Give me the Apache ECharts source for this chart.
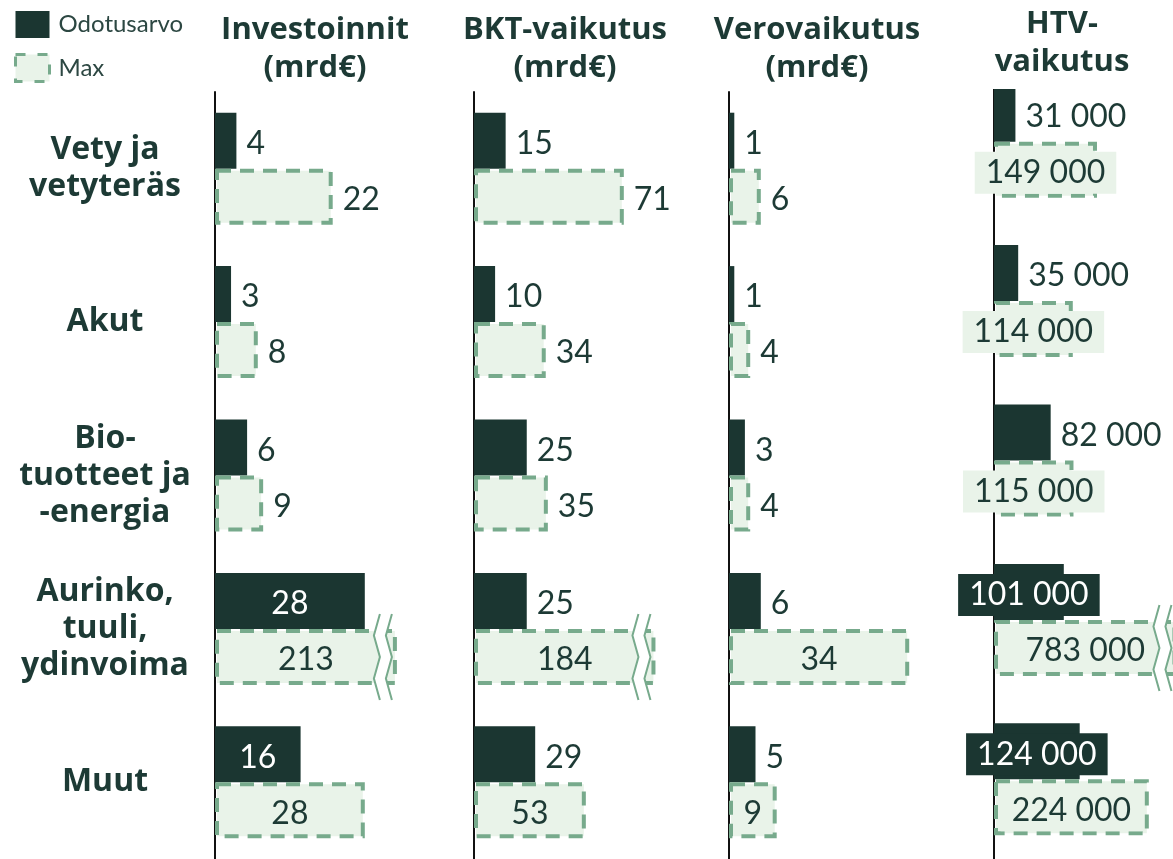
<!DOCTYPE html>
<html><head><meta charset="utf-8">
<script src="https://cdn.jsdelivr.net/npm/echarts@6/dist/echarts.min.js"></script>
<style>html,body{margin:0;padding:0;background:#fff}#c{width:1173px;height:859px}</style>
</head><body><div id="c"></div>
<script>
// ---------- DATA ----------
const categories = ['Vety ja\nvetyteräs', 'Akut', 'Bio-\ntuotteet ja\n-energia', 'Aurinko,\ntuuli,\nydinvoima', 'Muut'];
const panelTitles = ['Investoinnit\n(mrd€)', 'BKT-vaikutus\n(mrd€)', 'Verovaikutus\n(mrd€)', 'HTV-\nvaikutus'];
const seriesNames = ['Odotusarvo', 'Max'];
const investExpected = [4, 3, 6, 28, 16];
const investMax = [22, 8, 9, 213, 28];
const gdpExpected = [15, 10, 25, 25, 29];
const gdpMax = [71, 34, 35, 184, 53];
const taxExpected = [1, 1, 3, 6, 5];
const taxMax = [6, 4, 4, 34, 9];
const jobsExpected = [31000, 35000, 82000, 101000, 124000];
const jobsMax = [149000, 114000, 115000, 783000, 224000];
// value at which over-long bars are cut with a break mark
const breakAt = [34, 86, null, 264000];

// ---------- STYLE ----------
const DARK = '#1b3631', LIGHT = '#e9f3e9', DASH = '#77aa8c', TXT = '#1d3a35';
const NUM_FONT = 'Lato', HEAD_FONT = 'Open Sans';
const BAR_W = 56;
const panels = [
  {exp: investExpected, mx: investMax, left: 215, width: 214, max: 40, top: 92, height: 771,
   expIn: [0,0,0,1,1], mxIn: [0,0,0,1,1], boxed: false, tx: 315, ty: 11},
  {exp: gdpExpected, mx: gdpMax, left: 474, width: 211, max: 100, top: 92, height: 771,
   expIn: [0,0,0,0,0], mxIn: [0,0,0,1,1], boxed: false, tx: 565, ty: 11},
  {exp: taxExpected, mx: taxMax, left: 729, width: 212, max: 40, top: 92, height: 771,
   expIn: [0,0,0,0,0], mxIn: [0,0,0,1,1], boxed: false, tx: 817, ty: 11},
  {exp: jobsExpected, mx: jobsMax, left: 994, width: 179, max: 259000, top: 62, height: 801,
   expIn: [0,0,0,1,1], mxIn: [1,1,1,1,1], boxed: true, tx: 1062, ty: 5}
];

const fmt = v => String(v).replace(/\B(?=(\d{3})+(?!\d))/g, ' ');

const grid = [], xAxis = [], yAxis = [], series = [], graphic = [];
panels.forEach((p, i) => {
  grid.push({left: p.left, top: p.top, width: p.width, height: p.height, containLabel: false});
  xAxis.push({type: 'value', gridIndex: i, min: 0, max: p.max, show: false});
  yAxis.push({
    type: 'category', gridIndex: i, inverse: true, data: categories,
    axisLine: {show: true, lineStyle: {color: '#111', width: 2}},
    axisTick: {show: false}, splitLine: {show: false},
    axisLabel: {show: i === 0, align: 'center', margin: 110, fontFamily: HEAD_FONT,
      fontWeight: 'bold', fontSize: 32, lineHeight: 37, color: TXT}
  });
  const cap = breakAt[i];
  const baseLabel = {fontFamily: NUM_FONT, fontSize: 32, lineHeight: 36, offset: [0, 3]};
  series.push({
    name: seriesNames[0], type: 'bar', xAxisIndex: i, yAxisIndex: i,
    barWidth: BAR_W, barGap: '0%', itemStyle: {color: DARK},
    data: p.exp.map((v, k) => ({
      value: v,
      label: p.expIn[k]
        ? Object.assign({show: true, position: 'inside', color: '#fff'}, baseLabel,
            p.boxed ? {backgroundColor: DARK, padding: [3, 11]} : {})
        : Object.assign({show: true, position: 'right', distance: 10, color: TXT}, baseLabel)
    })),
    label: {formatter: pr => fmt(p.exp[pr.dataIndex])}
  });
  series.push({
    name: seriesNames[1], type: 'bar', xAxisIndex: i, yAxisIndex: i,
    barWidth: BAR_W, barGap: '0%', clip: false,
    itemStyle: {color: LIGHT, borderColor: DASH, borderWidth: 4, borderType: [14, 9]},
    data: p.mx.map((v, k) => ({
      value: cap != null ? Math.min(v, cap) : v,
      label: p.mxIn[k]
        ? Object.assign({show: true, position: 'inside', color: TXT}, baseLabel,
            p.boxed ? {backgroundColor: LIGHT, padding: [3, 11]} : {})
        : Object.assign({show: true, position: 'right', distance: 10, color: TXT}, baseLabel)
    })),
    label: {formatter: pr => fmt(p.mx[pr.dataIndex])}
  });
  if (cap != null) {
    const brk = [];
    p.mx.forEach((v, k) => { if (v > cap) brk.push([cap, k]); });
    series.push({
      type: 'custom', xAxisIndex: i, yAxisIndex: i, z: 5, silent: true, clip: false,
      data: brk,
      renderItem: (params, api) => {
        const pt = api.coord([api.value(0), api.value(1)]);
        const top = pt[1] - 15, bot = pt[1] + BAR_W + 15;
        const n = 4, step = (bot - top) / n;
        const zig = x => {
          const pts = [];
          for (let s = 0; s <= n; s++) pts.push([x + (s % 2 ? -3 : 3), top + s * step]);
          return pts;
        };
        const a = zig(pt[0] - 20), b = zig(pt[0] - 8);
        return {type: 'group', children: [
          {type: 'polygon', shape: {points: a.concat(b.slice().reverse())}, style: {fill: '#fff'}},
          {type: 'polyline', shape: {points: a}, style: {stroke: DASH, lineWidth: 2, fill: null}},
          {type: 'polyline', shape: {points: b}, style: {stroke: DASH, lineWidth: 2, fill: null}}
        ]};
      }
    });
  }
  graphic.push({
    type: 'text', x: p.tx, y: p.ty, z: 100,
    style: {text: panelTitles[i], textAlign: 'center', textVerticalAlign: 'top',
      fontFamily: HEAD_FONT, fontWeight: 'bold', fontSize: 31, lineHeight: 38, fill: TXT,
      backgroundColor: p.boxed ? '#fff' : null, padding: p.boxed ? [0, 40, 8, 40] : 0}
  });
});

const chart = echarts.init(document.getElementById('c'), null, {renderer: 'canvas'});
chart.setOption({
  backgroundColor: '#fff',
  animation: false,
  legend: {
    orient: 'vertical', left: 9, top: 6, itemWidth: 34, itemHeight: 27, itemGap: 15,
    selectedMode: false,
    textStyle: {fontFamily: NUM_FONT, fontSize: 24, color: '#2c4742', padding: [0, 0, 0, 4]},
    data: [
      {name: seriesNames[0], icon: 'rect', itemStyle: {color: DARK, borderWidth: 0}},
      {name: seriesNames[1], icon: 'rect', itemStyle: {color: LIGHT, borderColor: DASH, borderWidth: 3, borderType: [10, 12]}}
    ]
  },
  grid, xAxis, yAxis, series, graphic
});
</script></body></html>
